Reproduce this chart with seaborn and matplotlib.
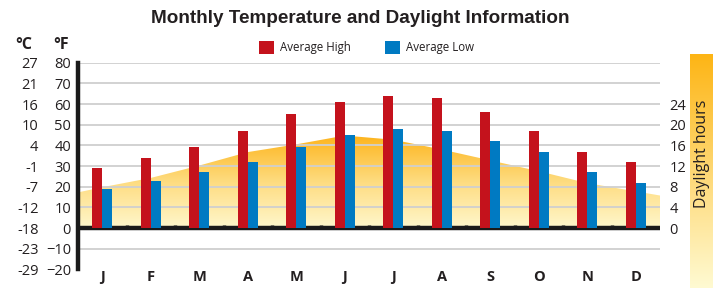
import numpy as np
import pandas as pd
import matplotlib
matplotlib.use("Agg")
import matplotlib.pyplot as plt
from matplotlib.colors import LinearSegmentedColormap
import seaborn as sns

# data
months = ['J', 'F', 'M', 'A', 'M', 'J', 'J', 'A', 'S', 'O', 'N', 'D']
avg_high = [29, 34, 39, 47, 55, 61, 64, 63, 56, 47, 37, 32]   # deg F
avg_low = [19, 23, 27, 32, 39, 45, 48, 47, 42, 37, 27, 22]    # deg F
# daylight hours at the left edge, each month centre, and the right edge
daylight_pos = [-0.5, 0, 1, 2, 3, 4, 5, 6, 7, 8, 9, 10, 11, 11.5]
daylight = [6.9, 7.9, 9.7, 12.1, 14.7, 16.2, 17.9, 17.1, 15.2, 13.1, 11.0, 8.7, 7.1, 6.3]
f_ticks = [-20, -10, 0, 10, 20, 30, 40, 50, 60, 70, 80]
c_labels = ['-29', '-23', '-18', '-12', '-7', '-1', '4', '10', '16', '21', '27']
hour_ticks = [0, 4, 8, 12, 16, 20, 24]

red = '#C4121C'
blue = '#007AC2'
txt = '#231F20'

sns.set_theme(style='white')
plt.rcParams['font.family'] = ['Open Sans', 'DejaVu Sans']

df = pd.DataFrame({
    'month': list(range(12)) * 2,
    'temp': avg_high + avg_low,
    'series': ['Average High'] * 12 + ['Average Low'] * 12,
})

fig = plt.figure(figsize=(7.21, 2.88), dpi=100)
ax = fig.add_axes([78 / 721, 1 - 269.4 / 288, 582 / 721, 206.7 / 288])

# daylight area on a twin axis that sits behind the bars
ax2 = ax.twinx()
ax.set_zorder(ax2.get_zorder() + 1)
ax.patch.set_visible(False)
area = ax2.fill_between(daylight_pos, 0, daylight, color='none', lw=0)
cmap = LinearSegmentedColormap.from_list('sun', ['#FFF7CC', '#FEDC80', '#FDB41C'])
grad = np.linspace(0, 1, 256).reshape(-1, 1)
img = ax2.imshow(grad, cmap=cmap, origin='lower', aspect='auto',
                 extent=[-0.5, 11.5, 0, max(daylight)], zorder=0)
img.set_clip_path(area.get_paths()[0], transform=ax2.transData)
ax2.set_ylim(-20 / 2.5, 80 / 2.5)
ax2.set_xlim(-0.5, 11.5)
ax2.set_yticks(hour_ticks)
ax2.tick_params(axis='y', length=0, pad=7, labelsize=10.5, colors=txt)
for s in ax2.spines.values():
    s.set_visible(False)

# bars
sns.barplot(data=df, x='month', y='temp', hue='series', palette=[red, blue],
            width=0.42, ax=ax, zorder=3, legend=True, saturation=1, linewidth=0)
ax.set_xlim(-0.5, 11.5)
ax.set_ylim(-20, 80)
ax.set_yticks(f_ticks)
ax.set_xticks(range(12))
ax.set_xticklabels(months, fontweight='bold', fontsize=10.5)
ax.set_xlabel('')
ax.set_ylabel('')
ax.tick_params(axis='x', length=0, pad=0.5, colors=txt)
ax.tick_params(axis='y', length=0, pad=5, labelsize=10.5, colors=txt)
for g in f_ticks[1:]:
    if g != 0:
        ax.axhline(g, color='#CFCFCF', lw=1.3, zorder=1)
ax.axhline(0, color='#1A1A1A', lw=3.2, zorder=2)
ax.vlines(np.arange(11) + 0.5, 0, 1.7, color='#1A1A1A', lw=2.5, zorder=2)
for side in ['top', 'right', 'bottom']:
    ax.spines[side].set_visible(False)
ax.spines['left'].set_linewidth(3.2)
ax.spines['left'].set_color('#1A1A1A')

# celsius labels
axc = ax.secondary_yaxis(-0.068)
axc.set_yticks(f_ticks)
axc.set_yticklabels(c_labels)
axc.tick_params(axis='y', length=0, pad=0, labelsize=10.5, colors=txt)
axc.spines['left'].set_visible(False)

# legend
handles, labels = ax.get_legend_handles_labels()
ax.get_legend().remove()
fig.legend(handles, labels, loc='center', bbox_to_anchor=(0.508, 0.835), ncol=2,
           frameon=False, fontsize=8.3, handlelength=1.3, handleheight=1.3,
           columnspacing=3.0, handletextpad=0.5, labelcolor=txt)

fig.text(0.5, 0.935, 'Monthly Temperature and Daylight Information',
         ha='center', va='center', fontsize=13.6, fontweight='bold', color=txt,
         family=['Liberation Sans', 'DejaVu Sans'])
fig.text(24 / 721, 1 - 45 / 288, '°C', ha='center', va='center',
         fontsize=11.5, fontweight='bold', color=txt)
fig.text(61 / 721, 1 - 45 / 288, '°F', ha='center', va='center',
         fontsize=11.5, fontweight='bold', color=txt)

# daylight gradient strip on the right
axd = fig.add_axes([690 / 721, 0, 23 / 721, 234 / 288])
axd.imshow(grad, cmap=LinearSegmentedColormap.from_list('bar', ['#FFFAD2', '#FDB515']),
           origin='lower', aspect='auto', extent=[0, 1, 0, 1])
axd.axis('off')
axd.text(0.5, 1 - 100 / 234, 'Daylight hours', rotation=90, ha='center', va='center',
         fontsize=11.5, color=txt, transform=axd.transAxes)

fig.savefig('out.png', dpi=100)
